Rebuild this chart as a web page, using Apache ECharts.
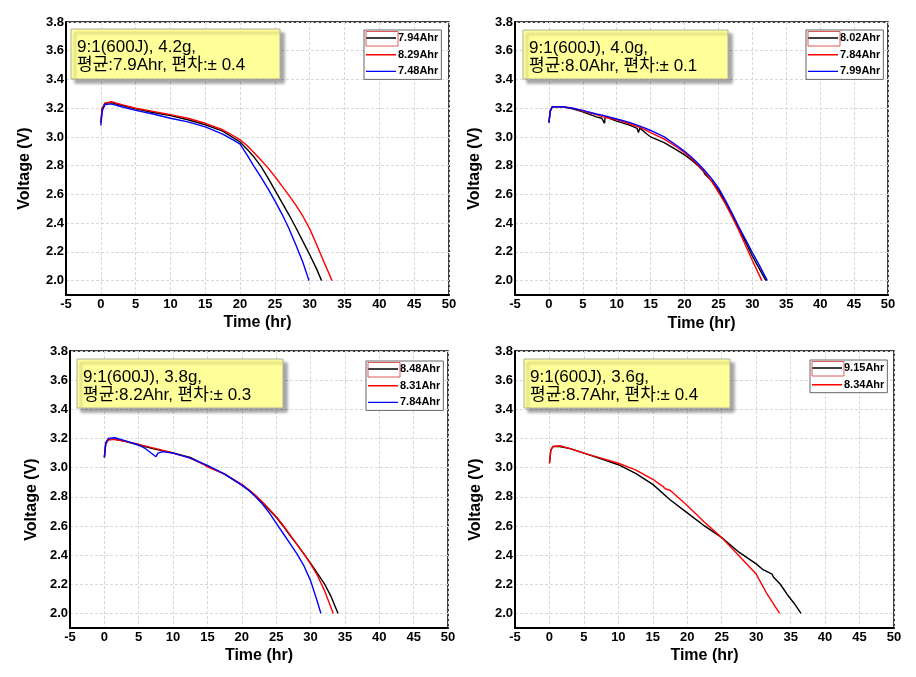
<!DOCTYPE html>
<html>
<head>
<meta charset="utf-8">
<script src="https://cdn.jsdelivr.net/npm/echarts@6.0.0/dist/echarts.min.js"></script>
<style>
html,body{margin:0;padding:0;background:#fff;}
#chart{width:916px;height:677px;}
</style>
</head>
<body>
<div id="chart"></div>
<script>
// ---------- tick labels ----------
const xTicks = [-5, 0, 5, 10, 15, 20, 25, 30, 35, 40, 45, 50];
const yTicks = [2.0, 2.2, 2.4, 2.6, 2.8, 3.0, 3.2, 3.4, 3.6, 3.8];

// ---------- annotation texts ----------
const notes = [
  '9:1(600J), 4.2g,\n평균:7.9Ahr, 편차:± 0.4',
  '9:1(600J), 4.0g,\n평균:8.0Ahr, 편차:± 0.1',
  '9:1(600J), 3.8g,\n평균:8.2Ahr, 편차:± 0.3',
  '9:1(600J), 3.6g,\n평균:8.7Ahr, 편차:± 0.4'
];

// ---------- series names ----------
const names1 = ['7.94Ahr', '8.29Ahr', '7.48Ahr'];
const names2 = ['8.02Ahr', '7.84Ahr', '7.99Ahr'];
const names3 = ['8.48Ahr', '8.31Ahr', '7.84Ahr'];
const names4 = ['9.15Ahr', '8.34Ahr'];

// ---------- panel 1 data [time(hr), voltage(V)] ----------
const p1Black = [[0,3.10],[0.2,3.20],[0.6,3.235],[1.5,3.24],[3,3.22],[5,3.195],[7.5,3.17],[10,3.148],[12.5,3.12],[15,3.085],[17.5,3.04],[19,2.995],[20,2.965],[21,2.915],[22,2.86],[23,2.795],[24,2.715],[25,2.63],[26,2.545],[27,2.46],[28,2.37],[29,2.275],[30,2.18],[31,2.08],[31.7,2.00]];
const p1Red   = [[0,3.10],[0.2,3.20],[0.7,3.235],[1.5,3.245],[3,3.225],[5,3.20],[7.5,3.178],[10,3.155],[12.5,3.13],[15,3.095],[17.5,3.05],[19,3.01],[20,2.98],[21,2.94],[22,2.89],[23,2.84],[24,2.785],[25,2.725],[26,2.66],[27,2.595],[28,2.525],[29,2.45],[30,2.36],[31,2.25],[32,2.135],[33.2,2.00]];
const p1Blue  = [[0,3.08],[0.2,3.18],[0.6,3.225],[1.5,3.23],[3,3.21],[5,3.185],[7.5,3.16],[10,3.13],[12.5,3.105],[15,3.07],[17.5,3.02],[19,2.98],[20,2.95],[21,2.875],[22,2.795],[23,2.72],[24,2.64],[25,2.555],[26,2.465],[27,2.365],[28,2.25],[29,2.13],[29.9,2.00]];

// ---------- panel 2 data ----------
const p2Black = [[0,3.10],[0.2,3.18],[0.5,3.21],[2,3.21],[3.5,3.195],[5,3.175],[7,3.14],[7.8,3.13],[8.2,3.095],[8.3,3.14],[10,3.11],[12,3.08],[13,3.06],[13.2,3.03],[13.4,3.06],[15,3.00],[17,2.96],[19,2.905],[20,2.875],[21,2.84],[22,2.80],[22.8,2.76],[23,2.74],[24,2.695],[25,2.63],[26,2.55],[27,2.46],[28,2.36],[29,2.27],[30,2.17],[31,2.085],[32.0,2.00]];
const p2Red   = [[0,3.10],[0.2,3.18],[0.5,3.21],[2,3.21],[3.5,3.20],[5,3.18],[7,3.155],[8,3.14],[10,3.12],[12,3.09],[13.5,3.065],[15,3.03],[17,2.985],[19,2.925],[20,2.89],[21,2.85],[22,2.805],[23,2.755],[24,2.69],[25,2.615],[26,2.535],[27,2.445],[28,2.35],[29,2.245],[30,2.14],[31,2.04],[31.4,2.00]];
const p2Blue  = [[0,3.10],[0.2,3.18],[0.5,3.21],[2,3.21],[3.5,3.20],[5,3.185],[7,3.16],[8,3.15],[10,3.125],[12,3.10],[14,3.065],[15,3.045],[17,3.00],[19,2.935],[20,2.90],[21,2.86],[22,2.815],[23,2.765],[24,2.71],[25,2.645],[26,2.56],[27,2.47],[28,2.375],[29,2.285],[30,2.195],[31,2.11],[32.2,2.00]];

// ---------- panel 3 data ----------
const p3Black = [[0,3.07],[0.2,3.17],[0.6,3.195],[1.5,3.195],[3,3.18],[5,3.155],[7.5,3.125],[10,3.10],[12.5,3.07],[15,3.01],[17.5,2.955],[20,2.88],[21,2.845],[22,2.805],[23,2.76],[24,2.71],[25,2.66],[26,2.60],[27,2.535],[28,2.475],[29,2.41],[30,2.345],[31,2.275],[32,2.205],[33,2.115],[34.0,2.00]];
const p3Red   = [[0,3.07],[0.2,3.16],[0.6,3.19],[1.5,3.195],[3,3.18],[5,3.16],[7.5,3.13],[10,3.10],[12.5,3.065],[14.5,3.02],[15,3.005],[17.5,2.955],[20,2.885],[21,2.85],[22,2.81],[23,2.765],[24,2.715],[25,2.665],[26,2.605],[27,2.54],[28,2.475],[29,2.41],[30,2.34],[31,2.26],[32,2.16],[33.3,2.00]];
const p3Blue  = [[0,3.07],[0.2,3.17],[0.6,3.20],[1.5,3.205],[3,3.185],[5,3.155],[6,3.13],[7.5,3.075],[7.8,3.10],[8.5,3.11],[10,3.10],[12.5,3.065],[15,3.015],[17.5,2.955],[20,2.88],[21,2.845],[22,2.80],[23,2.75],[24,2.69],[25,2.62],[26,2.55],[27,2.48],[28,2.41],[29,2.33],[30,2.225],[31,2.08],[31.5,2.00]];

// ---------- panel 4 data ----------
const p4Black = [[0,3.03],[0.2,3.12],[0.5,3.145],[1.5,3.145],[3,3.13],[5,3.10],[7.5,3.06],[10,3.02],[12.5,2.96],[15,2.885],[17.5,2.78],[20,2.69],[22.5,2.60],[25,2.52],[27.5,2.42],[30,2.34],[31,2.30],[32.3,2.27],[32.5,2.25],[33.5,2.20],[34.5,2.13],[35.5,2.07],[36.5,2.00]];
const p4Red   = [[0,3.03],[0.2,3.12],[0.5,3.145],[1.5,3.15],[3,3.13],[5,3.10],[7.5,3.065],[10,3.03],[12.5,2.985],[15,2.92],[16.5,2.87],[16.8,2.855],[17.5,2.845],[20,2.74],[22.5,2.625],[25,2.52],[27.5,2.395],[30,2.27],[31.5,2.14],[33.4,2.00]];

const BLACK = '#000000', RED = '#ff0000', BLUE = '#0000ff';
const FONT = '"Liberation Sans", Arial, sans-serif';
const KFONT = '"Liberation Sans", "Noto Sans CJK KR", sans-serif';
// legend icon: a thin horizontal line centred in a 30x12 box
const LINE_ICON = 'path://M0,0L0.01,0L0,0.01Z M0,5.3L30,5.3L30,6.7L0,6.7Z M29.99,12L30,11.99L30,12Z';

const panels = [
  {grid:{left:66, top:22, width:383, height:273}, yGap:33, xGap:20,
   legend:{left:364, top:30}, note:{x:71, y:29, w:209, h:50},
   series:[[names1[0],p1Black,BLACK],[names1[1],p1Red,RED],[names1[2],p1Blue,BLUE]]},
  {grid:{left:515, top:22, width:373, height:273}, yGap:32, xGap:21,
   legend:{left:806, top:30}, note:{x:523, y:30, w:205, h:49},
   series:[[names2[0],p2Black,BLACK],[names2[1],p2Red,RED],[names2[2],p2Blue,BLUE]]},
  {grid:{left:70, top:351, width:378, height:277}, yGap:30, xGap:20,
   legend:{left:366, top:361}, note:{x:77, y:359, w:206, h:49},
   series:[[names3[0],p3Black,BLACK],[names3[1],p3Red,RED],[names3[2],p3Blue,BLUE]]},
  {grid:{left:515, top:351, width:379, height:277}, yGap:31, xGap:20,
   legend:{left:810, top:360}, note:{x:524, y:359, w:206, h:49},
   series:[[names4[0],p4Black,BLACK],[names4[1],p4Red,RED]]}
];

const option = {
  backgroundColor:'#fff',
  animation:false,
  grid:[], xAxis:[], yAxis:[], series:[], legend:[], graphic:[]
};

panels.forEach((p, i) => {
  option.grid.push(Object.assign({show:true, borderColor:'#000', borderWidth:1.5, backgroundColor:'#fff'}, p.grid));
  option.xAxis.push({
    type:'value', gridIndex:i, min:xTicks[0], max:xTicks[xTicks.length-1], interval:5,
    name:'Time (hr)', nameLocation:'middle', nameGap:p.xGap,
    nameTextStyle:{fontFamily:FONT, fontWeight:'bold', fontSize:16, color:'#000'},
    axisLine:{show:true, onZero:false, lineStyle:{color:'#000', width:2}},
    axisTick:{show:false},
    axisLabel:{fontFamily:FONT, fontWeight:'bold', fontSize:13, color:'#000', margin:3},
    splitLine:{show:true, lineStyle:{color:'#d8d8d8', type:[3,2], width:1}}
  });
  option.yAxis.push({
    type:'value', gridIndex:i, min:1.9, max:yTicks[yTicks.length-1],
    name:'Voltage (V)', nameLocation:'middle', nameGap:p.yGap,
    nameTextStyle:{fontFamily:FONT, fontWeight:'bold', fontSize:16, color:'#000', padding:[0,20,0,0]},
    axisLine:{show:true, onZero:false, lineStyle:{color:'#000', width:2}},
    axisTick:{show:false, customValues:yTicks},
    axisLabel:{fontFamily:FONT, fontWeight:'bold', fontSize:13, color:'#000', margin:2,
               customValues:yTicks, formatter:(v)=>v.toFixed(1)},
    splitLine:{show:true, lineStyle:{color:'#d8d8d8', type:[3,2], width:1}}
  });
  const legendData = [];
  p.series.forEach(([name, data, color]) => {
    option.series.push({
      type:'line', name:name, xAxisIndex:i, yAxisIndex:i, data:data,
      symbol:'none', smooth:false,
      lineStyle:{color:color, width:1.4}, itemStyle:{color:color}
    });
    legendData.push({name:name, icon:LINE_ICON, itemStyle:{color:color, borderWidth:0}});
  });
  option.legend.push({
    data:legendData, orient:'vertical', left:p.legend.left, top:p.legend.top,
    itemWidth:30, itemHeight:12, itemGap:4.7, padding:[2,3,2,2],
    borderColor:'#666', borderWidth:1, backgroundColor:'#fff',
    textStyle:{fontFamily:FONT, fontWeight:'bold', fontSize:11, color:'#000', padding:[0,0,0,-3]},
    selectedMode:false
  });
  // red highlight around the first legend sample
  option.graphic.push({
    type:'rect', z:100,
    shape:{x:p.legend.left+2, y:p.legend.top+1.5, width:32, height:14.5},
    style:{fill:'none', stroke:'#e05a5a', lineWidth:1}
  });
  // yellow annotation box
  option.graphic.push({
    type:'rect', z:100,
    shape:{x:p.note.x, y:p.note.y, width:p.note.w, height:p.note.h},
    style:{fill:'#ffff99', stroke:'#b0b0a0', lineWidth:1,
           shadowColor:'rgba(0,0,0,0.35)', shadowOffsetX:4, shadowOffsetY:4, shadowBlur:3}
  });
  option.graphic.push({
    type:'text', z:101,
    x:p.note.x+6, y:p.note.y+9,
    style:{text:notes[i], fill:'#000', fontFamily:KFONT, fontSize:17, lineHeight:18}
  });
});

const chart = echarts.init(document.getElementById('chart'), null, {renderer:'canvas'});
chart.setOption(option);
</script>
</body>
</html>
